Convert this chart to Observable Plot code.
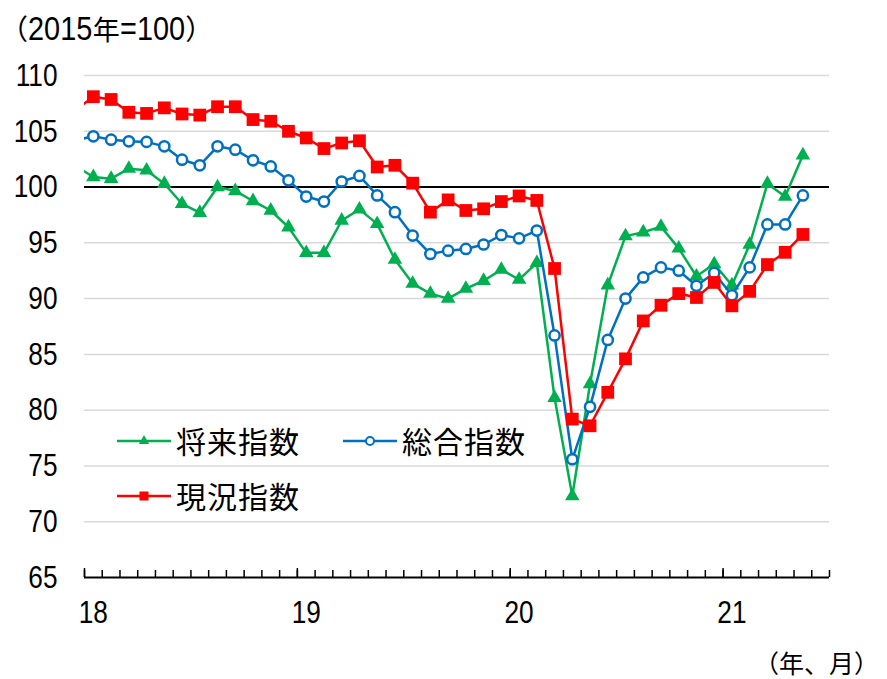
<!DOCTYPE html>
<html><head><meta charset="utf-8">
<script src="https://cdn.jsdelivr.net/npm/d3@7"></script>
<script src="https://cdn.jsdelivr.net/npm/@observablehq/plot@0.6"></script>
<style>
body{margin:0;background:#fff;}
#wrap{position:relative;width:887px;height:679px;overflow:hidden;background:#fff;}
.t{position:absolute;white-space:nowrap;color:#000;line-height:1;}
.num{font-family:"Liberation Sans",Arial,sans-serif;display:inline-block;transform:scaleX(0.85);transform-origin:0 50%;}
.cjk{font-family:"Noto Sans CJK JP",sans-serif;}
</style></head><body><div id="wrap"></div>
<script>
// month index: 0 = 2018年1月 ; first value is 2017年12月 (clipped at left edge)
const startIndex = -1;
const yearLabels = ["18", "19", "20", "21"];
const yearStarts = [0, 12, 24, 36];
const seriesNames = ["将来指数", "総合指数", "現況指数"];
const seriesColors = ["#00B050", "#0070C0", "#FF0000"];
const yTicks = [65, 70, 75, 80, 85, 90, 95, 100, 105, 110];

const genkyo = [106.9,
  108.1, 107.85, 106.7, 106.6, 107.1, 106.55, 106.45, 107.2, 107.2, 106.05, 105.9, 105.0,
  104.4, 103.45, 103.95, 104.15, 101.8, 101.95, 100.35, 97.75, 98.85, 97.9, 98.05, 98.7,
  99.2, 98.8, 92.7, 79.2, 78.6, 81.6, 84.6, 88.0, 89.4, 90.45, 90.1, 91.45,
  89.35, 90.65, 93.05, 94.15, 95.75];
const sogo = [104.2,
  104.55, 104.25, 104.1, 104.05, 103.65, 102.45, 101.95, 103.65, 103.35, 102.4, 101.85, 100.6,
  99.15, 98.7, 100.5, 101.0, 99.25, 97.75, 95.65, 94.0, 94.3, 94.45, 94.85, 95.7,
  95.4, 96.1, 86.7, 75.6, 80.3, 86.3, 90.0, 91.9, 92.8, 92.5, 91.15, 92.3,
  90.3, 92.8, 96.65, 96.65, 99.25];
const shorai = [101.9,
  100.9, 100.75, 101.65, 101.5, 100.3, 98.5, 97.7, 100.0, 99.65, 98.75, 97.9, 96.4,
  94.1, 94.1, 97.0, 98.0, 96.7, 93.5, 91.35, 90.45, 90.0, 90.9, 91.6, 92.6,
  91.7, 93.2, 81.1, 72.3, 82.35, 91.2, 95.6, 95.95, 96.45, 94.5, 92.0, 93.1,
  91.2, 94.85, 100.3, 99.15, 102.85];

const toRows = arr => arr.map((v, i) => ({x: startIndex + i, y: v}));
const rG = toRows(shorai), rB = toRows(sogo), rR = toRows(genkyo);
const nMonths = 42;
const bounds = d3.range(nMonths + 1).map(i => i - 0.5);
const yearBounds = yearStarts.map(s => s - 0.5);

const numFont = '"Liberation Sans",Arial,sans-serif';

const chart = Plot.plot({
  width: 887, height: 679,
  marginTop: 75, marginBottom: 102, marginLeft: 84, marginRight: 58,
  x: {domain: [-0.5, nMonths - 0.5]},
  y: {domain: [65, 110]},
  style: {fontFamily: numFont, fontSize: "32px", color: "#000", background: "#fff", overflow: "visible"},
  marks: [
    Plot.ruleY(yTicks.filter(v => v !== 100 && v !== 65), {stroke: "#d9d9d9", strokeWidth: 1.5}),
    Plot.ruleY([100], {stroke: "#000", strokeWidth: 2}),
    Plot.ruleY([65], {stroke: "#000", strokeWidth: 2}),
    Plot.axisY({ticks: yTicks, tickSize: 0, tickPadding: 27, label: null, fontSize: 32}),
    Plot.axisX({ticks: bounds, tickSize: 7, dy: -7, tickFormat: () => "", label: null, strokeWidth: 1.5}),
    Plot.axisX({ticks: yearBounds, tickSize: 9, dy: -9, tickFormat: () => "", label: null, strokeWidth: 1.5}),
    Plot.axisX({ticks: yearStarts, tickSize: 0, tickPadding: 23, tickFormat: d => yearLabels[yearStarts.indexOf(d)], label: null, fontSize: 32}),
    Plot.line(rG, {x: "x", y: "y", stroke: seriesColors[0], strokeWidth: 2.5, clip: true}),
    Plot.dot(rG, {x: "x", y: "y", symbol: "triangle", fill: seriesColors[0], r: 5.4, clip: true}),
    Plot.line(rB, {x: "x", y: "y", stroke: seriesColors[1], strokeWidth: 2.5, clip: true}),
    Plot.dot(rB, {x: "x", y: "y", symbol: "circle", fill: "#fff", stroke: seriesColors[1], strokeWidth: 2.5, r: 5.1, clip: true}),
    Plot.line(rR, {x: "x", y: "y", stroke: seriesColors[2], strokeWidth: 2.5, clip: true}),
    Plot.dot(rR, {x: "x", y: "y", symbol: "square", fill: seriesColors[2], r: 7.2, clip: true})
  ]
});
// condense the tick-label digits (narrow digit style of the reference)
d3.select(chart).selectAll('g[aria-label="y-axis tick label"] text, g[aria-label="x-axis tick label"] text')
  .each(function() {
    const t = this.getAttribute("transform") || "";
    this.setAttribute("transform", t + " scale(0.82,1)");
  });
const wrap = document.getElementById("wrap");
wrap.appendChild(chart);

// title
const title = document.createElement("div");
title.className = "t";
title.style.left = "0px"; title.style.top = "11px";
title.innerHTML = '<span class="cjk" style="font-size:28px">（</span><span class="num" style="font-size:34px;margin-right:-11px">2015</span><span class="cjk" style="font-size:27px">年</span><span class="num" style="font-size:34px;margin-right:-11px">=100</span><span class="cjk" style="font-size:28px">）</span>';
wrap.appendChild(title);

// unit label
const unit = document.createElement("div");
unit.className = "t cjk";
unit.style.left = "754px"; unit.style.top = "650px"; unit.style.fontSize = "25px";
unit.textContent = "（年、月）";
wrap.appendChild(unit);

// legend
const legendItems = [
  {name: seriesNames[0], color: seriesColors[0], sym: "tri", lx: 117, cy: 441},
  {name: seriesNames[1], color: seriesColors[1], sym: "circ", lx: 343, cy: 441},
  {name: seriesNames[2], color: seriesColors[2], sym: "sq", lx: 117, cy: 496}
];
legendItems.forEach(it => {
  const sw = document.createElementNS("http://www.w3.org/2000/svg", "svg");
  sw.setAttribute("width", 54); sw.setAttribute("height", 20);
  sw.style.position = "absolute"; sw.style.left = it.lx + "px"; sw.style.top = (it.cy - 10) + "px";
  let s = `<line x1="0" x2="54" y1="10" y2="10" stroke="${it.color}" stroke-width="2.5"/>`;
  if (it.sym === "tri") s += `<path d="${d3.symbol(d3.symbolTriangle, 45)()}" transform="translate(27,10)" fill="${it.color}"/>`;
  if (it.sym === "circ") s += `<circle cx="27" cy="10" r="4" fill="#fff" stroke="${it.color}" stroke-width="2"/>`;
  if (it.sym === "sq") s += `<rect x="22.5" y="5.5" width="9" height="9" fill="${it.color}"/>`;
  sw.innerHTML = s;
  wrap.appendChild(sw);
  const tx = document.createElement("div");
  tx.className = "t cjk";
  tx.style.left = (it.lx + 59) + "px"; tx.style.top = (it.cy - 16) + "px";
  tx.style.fontSize = "30px"; tx.style.letterSpacing = "1px";
  tx.textContent = it.name;
  wrap.appendChild(tx);
});
</script></body></html>
